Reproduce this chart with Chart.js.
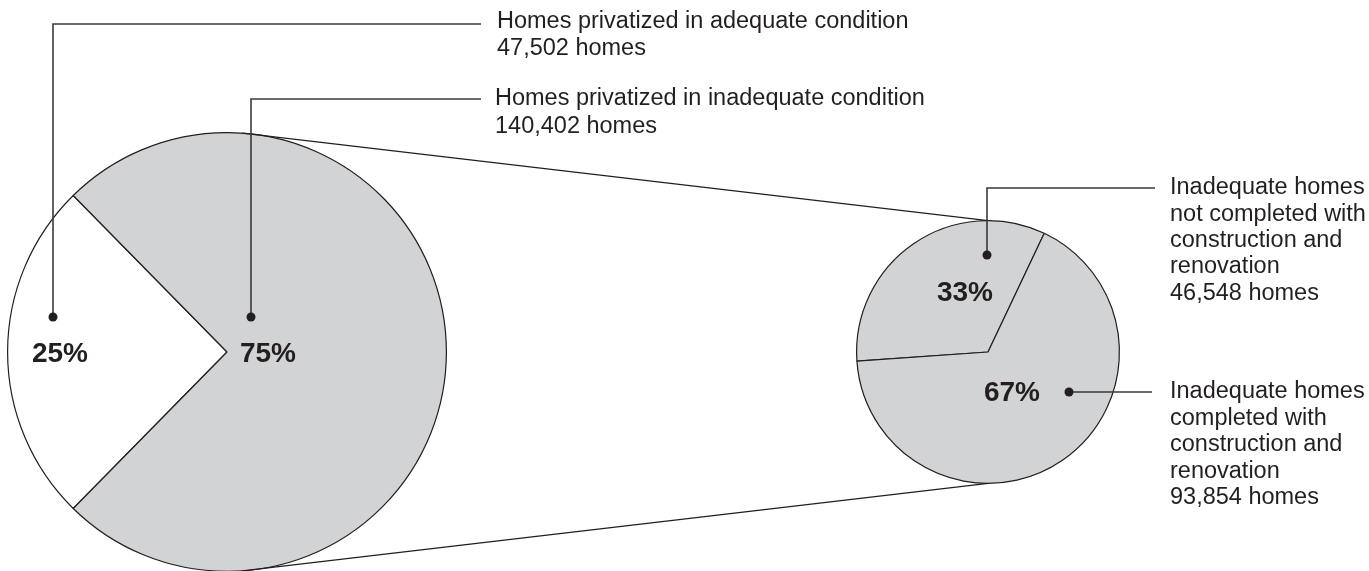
<!DOCTYPE html>
<html>
<head>
<meta charset="utf-8">
<script src="https://cdn.jsdelivr.net/npm/chart.js@4.4.1/dist/chart.umd.min.js"></script>
<style>
  html, body { margin: 0; padding: 0; background: #fff; overflow: hidden; }
  #wrap { position: relative; width: 1369px; height: 571px; overflow: hidden; }
  canvas { position: absolute; left: 0; top: 0; }
</style>
</head>
<body>
<div id="wrap">
  <canvas id="bigPie" width="1369" height="600"></canvas>
  <canvas id="smallPie" width="1369" height="600"></canvas>
</div>
<script>
// data
const bigLabels = ['Homes privatized in adequate condition', 'Homes privatized in inadequate condition'];
const bigValues = [47502, 140402];
const bigPercents = ['25%', '75%'];

const smallLabels = ['Inadequate homes not completed with construction and renovation',
                     'Inadequate homes completed with construction and renovation'];
const smallValues = [46548, 93854];
const smallPercents = ['33%', '67%'];

const bigText = [
  ['Homes privatized in adequate condition', '47,502 homes'],
  ['Homes privatized in inadequate condition', '140,402 homes']
];
const smallText = [
  ['Inadequate homes', 'not completed with', 'construction and', 'renovation', '46,548 homes'],
  ['Inadequate homes', 'completed with', 'construction and', 'renovation', '93,854 homes']
];

const ink = '#231f20';
const grey = '#d1d3d4';
const lineGrey = '#3a3a3a';

const baseOpts = {
  responsive: false,
  animation: false,
  events: [],
  plugins: { legend: { display: false }, tooltip: { enabled: false } }
};

const bigChart = new Chart(document.getElementById('bigPie').getContext('2d'), {
  type: 'pie',
  data: {
    labels: bigLabels,
    datasets: [{
      data: bigValues,
      backgroundColor: ['#ffffff', grey],
      borderColor: ink,
      borderWidth: 1.2
    }]
  },
  options: Object.assign({}, baseOpts, {
    rotation: 224.5,
    layout: { padding: { left: 7, right: 922, top: 132, bottom: 28 } }
  })
});

function dot(ctx, x, y) {
  ctx.beginPath();
  ctx.arc(x, y, 4.5, 0, Math.PI * 2);
  ctx.fillStyle = ink;
  ctx.fill();
}

function leader(ctx, pts) {
  ctx.beginPath();
  ctx.moveTo(pts[0][0], pts[0][1]);
  for (let i = 1; i < pts.length; i++) ctx.lineTo(pts[i][0], pts[i][1]);
  ctx.strokeStyle = lineGrey;
  ctx.lineWidth = 1.6;
  ctx.stroke();
}

function lines(ctx, arr, x, y, step) {
  ctx.font = '23.5px "Liberation Sans", Arial, sans-serif';
  ctx.fillStyle = ink;
  ctx.textAlign = 'left';
  ctx.textBaseline = 'middle';
  arr.forEach((t, i) => ctx.fillText(t, x, y + i * step));
}

function pct(ctx, t, x, y) {
  ctx.font = 'bold 28px "Liberation Sans", Arial, sans-serif';
  ctx.fillStyle = ink;
  ctx.textAlign = 'center';
  ctx.textBaseline = 'middle';
  ctx.fillText(t, x, y);
}

const overlay = {
  id: 'overlay',
  afterDraw(chart) {
    const ctx = chart.ctx;
    const b = bigChart.getDatasetMeta(0).data[0];
    const s = chart.getDatasetMeta(0).data[0];
    const br = b.outerRadius, sr = s.outerRadius;
    ctx.save();

    // connector lines between the two pies
    const a = 4 * Math.PI / 180;
    ctx.beginPath();
    ctx.moveTo(b.x + br * Math.sin(a), b.y - br * Math.cos(a));
    ctx.lineTo(s.x, s.y - sr);
    ctx.moveTo(b.x + br * Math.sin(a), b.y + br * Math.cos(a));
    ctx.lineTo(s.x, s.y + sr);
    ctx.strokeStyle = ink;
    ctx.lineWidth = 1.2;
    ctx.stroke();

    // big pie leaders
    const d0 = [b.x - 174, b.y - 35];
    const d1 = [b.x + 24, b.y - 35];
    leader(ctx, [d0, [d0[0], 24], [481, 24]]);
    leader(ctx, [d1, [d1[0], 99], [481, 99]]);
    dot(ctx, d0[0], d0[1]);
    dot(ctx, d1[0], d1[1]);
    lines(ctx, bigText[0], 497, 22, 27);
    lines(ctx, bigText[1], 495, 99, 27.5);
    pct(ctx, bigPercents[0], b.x - 167, b.y + 2);
    pct(ctx, bigPercents[1], b.x + 41, b.y + 2);

    // small pie leaders
    const e0 = [s.x - 1, s.y - 97];
    const e1 = [s.x + 81, s.y + 40];
    leader(ctx, [e0, [e0[0], 188], [1155, 188]]);
    leader(ctx, [e1, [1152, e1[1]]]);
    dot(ctx, e0[0], e0[1]);
    dot(ctx, e1[0], e1[1]);
    lines(ctx, smallText[0], 1170, 188, 26.3);
    lines(ctx, smallText[1], 1170, 392, 26.5);
    pct(ctx, smallPercents[0], s.x - 23, s.y - 59);
    pct(ctx, smallPercents[1], s.x + 24, s.y + 41);

    ctx.restore();
  }
};

const smallChart = new Chart(document.getElementById('smallPie').getContext('2d'), {
  type: 'pie',
  data: {
    labels: smallLabels,
    datasets: [{
      data: smallValues,
      backgroundColor: [grey, grey],
      borderColor: ink,
      borderWidth: 1.2
    }]
  },
  options: Object.assign({}, baseOpts, {
    rotation: 266,
    layout: { padding: { left: 856, right: 249, top: 220, bottom: 116 } }
  }),
  plugins: [overlay]
});
</script>
</body>
</html>
